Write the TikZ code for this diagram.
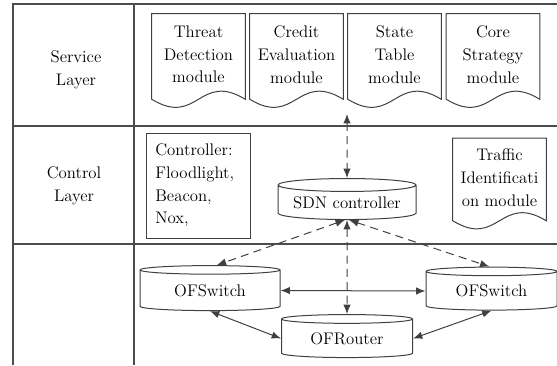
\documentclass[tikz,border=0pt]{standalone}
\usepackage{fontspec}
\usetikzlibrary{shapes.geometric,arrows.meta}
\tikzset{
  layerline/.style={line width=1.1pt,draw=black!70},
  outline/.style={line width=0.75pt,draw=black!75},
  docnode/.style={minimum width=69.75pt,minimum height=60.75pt,align=center,inner sep=0pt},
  dbnode/.style={cylinder,shape border rotate=90,aspect=0.12,outline,inner sep=0pt},
  biarrow/.style={{Latex[length=7pt,width=5.5pt]}-{Latex[length=7pt,width=5.5pt]},outline},
  dasharrow/.style={biarrow,dash pattern=on 6pt off 4pt},
}
\begin{document}
\begin{tikzpicture}[x=0.75pt,y=-0.75pt,font=\fontsize{12.6}{17}\selectfont]
\useasboundingbox (0,0) rectangle (557,365);
% layer grid
\draw[layerline] (13,365) -- (13,4) -- (557,4);
\draw[layerline] (134,4) -- (134,365);
\draw[layerline] (13,126) -- (557,126);
\draw[layerline] (13,244) -- (557,244);
\node[align=center] (svc) at (76,70) {Service\\Layer};
\node[align=center] (ctr) at (74,186) {Control\\Layer};
% service modules
\node[docnode] (thr) at (198.5,54.5) {Threat\\Detection\\module};
\node[docnode] (cre) at (296.5,54.5) {Credit\\Evaluation\\module};
\node[docnode] (sta) at (394.5,54.5) {State\\Table\\module};
\node[docnode] (cor) at (493,54.5) {Core\\Strategy\\module};
\node[docnode,minimum height=58.5pt] (tra) at (499.5,177.5) {Traffic\\Identificati\\on module};
\foreach \n in {thr,cre,sta,cor,tra}
  \draw[outline] (\n.north west) -- ([yshift=-3pt]\n.south west)
     .. controls +(46,28) and +(-46,-28) .. ([yshift=-3pt]\n.south east) -- (\n.north east) -- cycle;
% control layer
\node[outline,text width=64pt,align=left,minimum height=78.75pt,inner xsep=7pt] (ctl) at (198,185.5) {Controller:\\Floodlight,\\Beacon,\\Nox,};
\node[dbnode,minimum width=103.5pt,minimum height=30.75pt] (sdn) at (347,202.5) {SDN controller};
% data layer
\node[dbnode,minimum width=105pt,minimum height=33.75pt] (swl) at (210,290.5) {OFSwitch};
\node[dbnode,minimum width=98.25pt,minimum height=32.25pt] (swr) at (491.5,291) {OFSwitch};
\node[dbnode,minimum width=98.25pt,minimum height=32.25pt] (rtr) at (347,338.5) {OFRouter};
\coordinate (app) at (347,114);
\draw[dasharrow] (app) -- (sdn.north);
\draw[dasharrow] (sdn.-97) -- (swl.75);
\draw[dasharrow] (sdn.-83) -- (swr.95);
\draw[dasharrow] (sdn.south) -- (rtr.north);
\draw[biarrow] (swl.east) -- (swr.west);
\draw[biarrow] (swl.south) -- (rtr.west);
\draw[biarrow] (rtr.east) -- (swr.south);
\end{tikzpicture}
\end{document}
